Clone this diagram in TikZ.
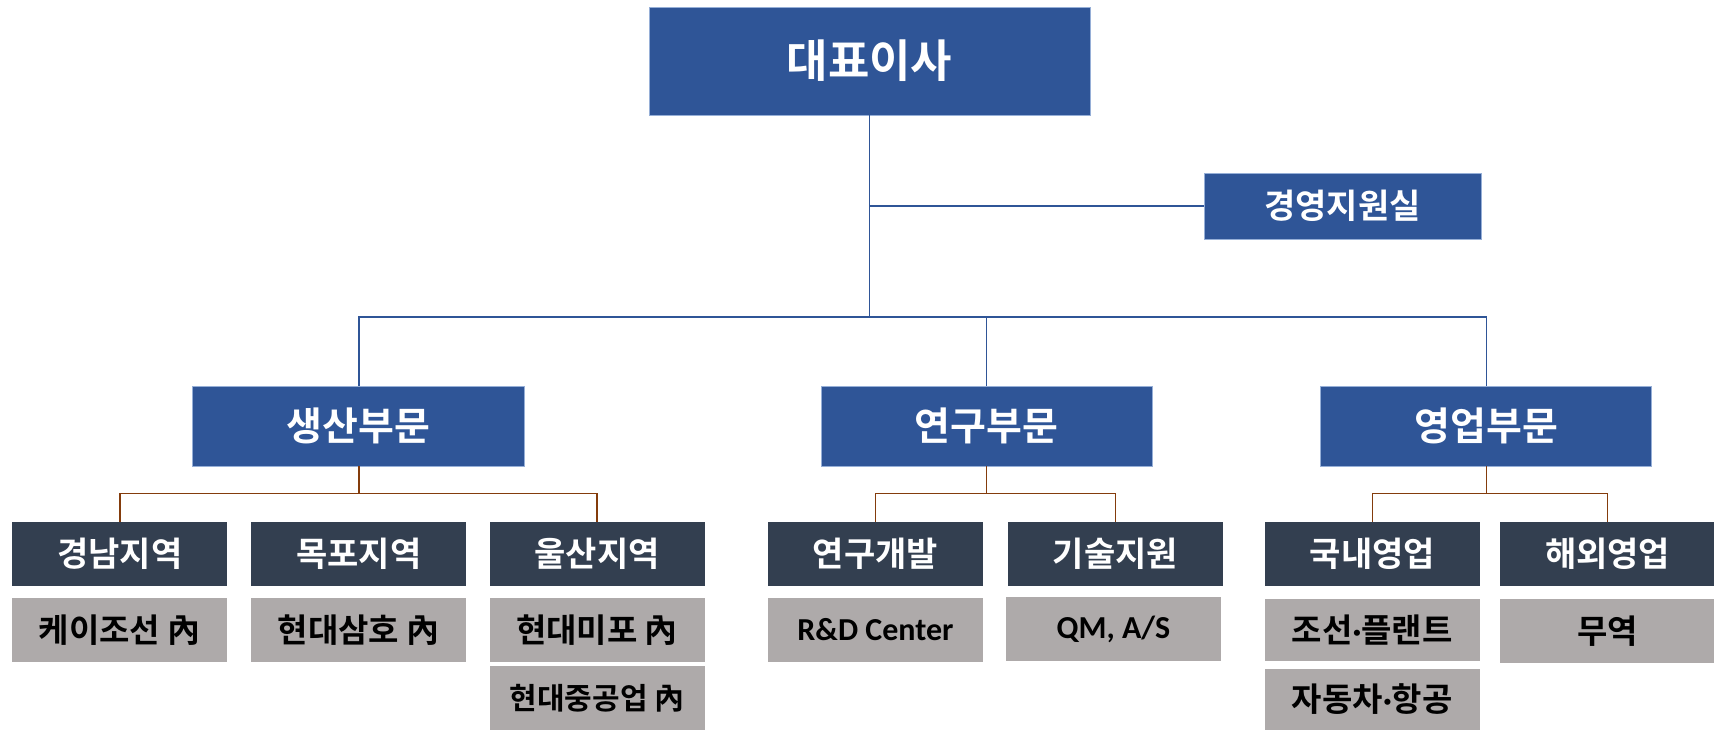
\documentclass[tikz,border=0pt]{standalone}
\usepackage{fontspec}
\setmainfont{Noto Sans CJK KR}[BoldFont={Noto Sans CJK KR Bold}]
\newfontfamily\latinfont{Carlito}
\definecolor{cblue}{RGB}{47,85,151}
\definecolor{cblueedge}{RGB}{150,175,215}
\definecolor{cdark}{RGB}{51,63,80}
\definecolor{cgray}{RGB}{174,170,170}
\definecolor{cbrown}{RGB}{132,60,12}
\newcommand{\fs}[1]{\bfseries\fontsize{#1}{#1}\selectfont}
\newcommand{\mdot}{{\latinfont\bfseries ·}}
\tikzset{
  base/.style={rectangle, inner sep=0pt, align=center},
  bluebox/.style={base, fill=cblue, draw=cblueedge, line width=0.8pt, text=white},
  darkbox/.style={base, fill=cdark, text=white, minimum width=215pt, minimum height=64pt, font=\fs{34}},
  graybox/.style={base, fill=cgray, text=black, minimum width=215pt, minimum height=64pt, font=\fs{33}},
  latinbox/.style={graybox, font=\latinfont\fs{32}},
  blueline/.style={draw=cblue, line width=1.5pt},
  brownline/.style={draw=cbrown, line width=1.5pt},
}
\begin{document}
\begin{tikzpicture}[x=1pt,y=-1pt]
\useasboundingbox[fill=white] (0,0) rectangle (1714,730);
% top level
\node[bluebox, minimum width=441pt, minimum height=108pt, font=\fs{45}] (ceo) at (869.5,61) {대표이사};
\node[bluebox, minimum width=277pt, minimum height=66pt, font=\fs{34}] (mgmt) at (1342.5,206) {경영지원실};
% divisions
\node[bluebox, minimum width=332pt, minimum height=80pt, font=\fs{39}] (prod) at (358.75,426) {생산부문};
\node[bluebox, minimum width=331pt, minimum height=80pt, font=\fs{39}] (rnd) at (986.5,426) {연구부문};
\node[bluebox, minimum width=331pt, minimum height=80pt, font=\fs{39}] (sales) at (1486.25,426) {영업부문};
% level 3
\node[darkbox] (gn) at (119.8,554) {경남지역};
\node[darkbox] (mp) at (358.75,554) {목포지역};
\node[darkbox] (us) at (597,554) {울산지역};
\node[darkbox] (rd) at (875.5,554) {연구개발};
\node[darkbox] (ts) at (1115.5,554) {기술지원};
\node[darkbox] (dm) at (1372.3,554) {국내영업};
\node[darkbox] (os) at (1607.7,554) {해외영업};
% level 4
\node[graybox] (g1) at (119.8,630) {케이조선 內};
\node[graybox] (g2) at (358.75,630) {현대삼호 內};
\node[graybox] (g3) at (597,630) {현대미포 內};
\node[graybox, font=\fs{30}] (g4) at (597,698) {현대중공업 內};
\node[latinbox] (g5) at (875.5,630) {R\&D Center};
\node[latinbox] (g6) at (1113.5,629) {QM, A/S};
\node[graybox, minimum height=62pt] (g7) at (1372.3,630) {조선\mdot 플랜트};
\node[graybox, minimum height=61pt] (g8) at (1372.3,699.5) {자동차\mdot 항공};
\node[graybox] (g9) at (1607.7,631) {무역};
% blue connectors
\coordinate (bus) at (869.5,317);
\draw[blueline] (ceo.south) -- (bus);
\draw[blueline] (ceo.south |- mgmt.west) -- (mgmt.west);
\draw[blueline] (prod.north) |- (bus) -| (sales.north);
\draw[blueline] (rnd.north) -- (rnd.north |- bus);
% brown connectors
\coordinate (by) at (0,493.5);
\draw[brownline] (prod.south) -- (prod.south |- by);
\draw[brownline] (gn.north) |- (us.north |- by) -- (us.north);
\draw[brownline] (rnd.south) -- (rnd.south |- by);
\draw[brownline] (rd.north) |- (ts.north |- by) -- (ts.north);
\draw[brownline] (sales.south) -- (sales.south |- by);
\draw[brownline] (dm.north) |- (os.north |- by) -- (os.north);
\end{tikzpicture}
\end{document}
